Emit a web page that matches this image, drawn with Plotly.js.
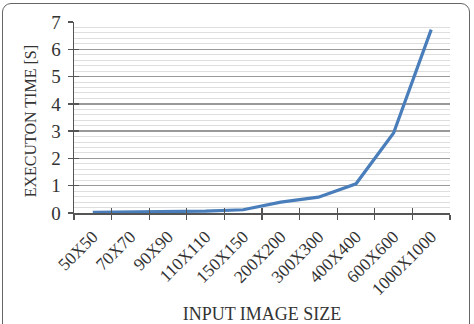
<!DOCTYPE html>
<html>
<head>
<meta charset="utf-8">
<script src="https://cdn.plot.ly/plotly-3.0.1.min.js"></script>
<style>
html,body{margin:0;padding:0;background:#fff;overflow:hidden;}
#frame{position:absolute;left:2px;top:3px;width:468px;height:340px;border:1.6px solid #666;border-radius:9px;box-sizing:border-box;}
#chart{position:absolute;left:0;top:0;width:474px;height:324px;}
</style>
</head>
<body>
<div id="frame"></div>
<div id="chart"></div>
<script>
const categories = ["50X50","70X70","90X90","110X110","150X150","200X200","300X300","400X400","600X600","1000X1000"];
const execTime = [0.02, 0.03, 0.04, 0.07, 0.12, 0.40, 0.58, 1.07, 2.93, 6.72];
const yTickVals = [0,1,2,3,4,5,6,7];
const yTitle = "EXECUTON TIME [S]";
const xTitle = "INPUT IMAGE SIZE";
const font = "Liberation Serif, Times New Roman, serif";

const trace = {
  x: categories, y: execTime, type: "scatter", mode: "lines",
  line: {color: "#4A7EBB", width: 3.2}, hoverinfo: "skip", showlegend: false
};

const layout = {
  width: 474, height: 324,
  margin: {l: 74, r: 24, t: 22, b: 111},
  paper_bgcolor: "rgba(0,0,0,0)", plot_bgcolor: "rgba(0,0,0,0)",
  font: {family: font, color: "#333", size: 16},
  xaxis: {
    type: "category", categoryarray: categories, range: [-0.5, 9.5],
    tickson: "boundaries", ticks: "outside", ticklen: 5, tickcolor: "#555", tickwidth: 1.3,
    showline: true, linecolor: "#555", linewidth: 1.5, showgrid: false,
    tickangle: -45, ticklabelstandoff: 5, tickfont: {family: font, size: 17.5, color: "#333"},
    title: {text: xTitle, font: {family: font, size: 18, color: "#333"}, standoff: 10}
  },
  yaxis: {
    range: [0, 7], tickvals: yTickVals, ticks: "outside", ticklen: 5, tickcolor: "#555", tickwidth: 1.3,
    showline: true, linecolor: "#555", linewidth: 1.5,
    showgrid: true, gridcolor: "#999", gridwidth: 1.3, zeroline: false,
    minor: {dtick: 0.2, showgrid: true, gridcolor: "#dedede", gridwidth: 1},
    ticklabelstandoff: 3,
    tickfont: {family: font, size: 19, color: "#333"}
  },
  xaxis2: {
    type: "category", categoryarray: categories, range: [-0.5, 9.5], overlaying: "x",
    tickson: "boundaries", ticks: "inside", ticklen: 5, tickcolor: "#555", tickwidth: 1.3,
    showticklabels: false, showgrid: false, showline: false, zeroline: false
  },
  yaxis2: {
    range: [0, 7], tickvals: yTickVals, overlaying: "y", side: "left",
    ticks: "inside", ticklen: 5, tickcolor: "#555", tickwidth: 1.3,
    showticklabels: false, showgrid: false, showline: false, zeroline: false
  },
  annotations: [{
    text: yTitle, textangle: -90, showarrow: false,
    xref: "paper", yref: "paper", x: 0, y: 0.48, xanchor: "center", yanchor: "middle", xshift: -44,
    font: {family: font, size: 16, color: "#333"}
  }]
};

const dummy = {x: categories, y: execTime, xaxis: "x2", yaxis: "y2", type: "scatter", mode: "lines",
  line: {width: 0, color: "rgba(0,0,0,0)"}, hoverinfo: "skip", showlegend: false};

Plotly.newPlot("chart", [dummy, trace], layout, {staticPlot: true, displayModeBar: false});
</script>
</body>
</html>
